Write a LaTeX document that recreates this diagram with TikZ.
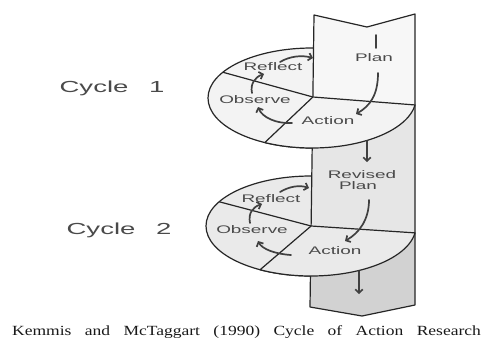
\documentclass[tikz,border=0pt]{standalone}
\usepackage{fontspec}
\usepackage{graphicx}
\setmainfont{Liberation Sans}
\newfontfamily\capfont{Liberation Serif}
\usetikzlibrary{arrows.meta}
\newcommand\widen[1]{\scalebox{1.72}[1]{#1}}
\definecolor{plantop}{HTML}{F7F7F7}
\definecolor{planmid}{HTML}{E6E6E6}
\definecolor{planbot}{HTML}{D2D2D2}
\definecolor{discA}{HTML}{F3F3F3}
\definecolor{discB}{HTML}{EAEAEA}
\definecolor{inkgrey}{HTML}{4A4A4A}
\begin{document}
\begin{tikzpicture}[x=1pt,y=-1pt,
  edge/.style={draw=black!85, line width=1.2pt, line join=round},
  flow/.style={draw=black!75, line width=1.7pt, line cap=round, -{Straight Barb[length=3.5pt,width=7.5pt]}},
  lbl/.style={text=inkgrey, font=\fontsize{11}{12}\selectfont, inner sep=0pt, anchor=base},
  cyc/.style={text=inkgrey, font=\fontsize{16}{18}\selectfont, inner sep=0pt, anchor=base},
]
\path[use as bounding box, fill=white] (0,0) rectangle (486,340);

% strip corners
\coordinate (T1) at (314,15);
\coordinate (N)  at (367,27);
\coordinate (T2) at (415,14);
\coordinate (B2) at (415,305);
\coordinate (P)  at (362,316);
\coordinate (B1) at (310,307);
\coordinate (J1) at (312.9,97);
\coordinate (R1) at (415,105);
\coordinate (J2) at (311.1,226);
\coordinate (R2) at (415,233);
\coordinate (U1) at ({312+104*cos(211)},{98+50*sin(211)});
\coordinate (U2) at ({311+105*cos(209)},{226+50*sin(209)});

% discs (back parts), clipped at the strip's right edge
\begin{scope}
\clip (0,0) rectangle (414.6,340);
\filldraw[edge, fill=discA] (312,98) ellipse [x radius=104, y radius=50];
\draw[edge] (J1) -- (U1);
\filldraw[edge, fill=discB] (311,226) ellipse [x radius=105, y radius=50];
\draw[edge] (J2) -- (U2);
\end{scope}

% strip
\fill[plantop] (T1) -- (N) -- (T2) -- (R1) -- (J1) -- cycle;
\fill[planmid] (J1) -- (R1) -- (R2) -- (J2) -- cycle;
\fill[planbot] (J2) -- (R2) -- (B2) -- (P) -- (B1) -- cycle;
\draw[edge] (T1) -- (N) -- (T2) -- (B2) -- (P) -- (B1) -- cycle;

% action sectors (front)
\filldraw[edge, fill=discA] (J1) -- plot[domain=117:8, samples=60] ({312+104*cos(\x)},{98+50*sin(\x)}) -- cycle;
\filldraw[edge, fill=discB] (J2) -- plot[domain=119:7.9, samples=60] ({311+105*cos(\x)},{226+50*sin(\x)}) -- cycle;

% labels
\node[cyc] (c1) at (112,92.5) {\widen{Cycle\hspace{0.75em}1}};
\node[cyc] (c2) at (119,234) {\widen{Cycle\hspace{0.75em}2}};
\node[lbl] (reflect1) at (273,70) {\widen{Reflect}};
\node[lbl] (observe1) at (255,103) {\widen{Observe}};
\node[lbl] (action1) at (328,124) {\widen{Action}};
\node[lbl] (plan1) at (374,61) {\widen{Plan}};
\node[lbl] (reflect2) at (271,202) {\widen{Reflect}};
\node[lbl] (observe2) at (252,233) {\widen{Observe}};
\node[lbl] (action2) at (335,254) {\widen{Action}};
\node[lbl] (revised) at (362,178) {\widen{Revised}};
\node[lbl] (plan2) at (358,189.5) {\widen{Plan}};

% arrow end points
\coordinate (a1s) at (376,35);  \coordinate (a1e) at (376,48);
\coordinate (a2s) at (378,73);  \coordinate (a2e) at (356,114);
\coordinate (a3s) at (292,123); \coordinate (a3e) at (258,107);
\coordinate (a4s) at (252,93);  \coordinate (a4e) at (264,74);
\coordinate (a5s) at (280,62);  \coordinate (a5e) at (313,58);
\coordinate (a6s) at (367,141); \coordinate (a6e) at (367,162);
\coordinate (b1s) at (369,200); \coordinate (b1e) at (345,241);
\coordinate (b2s) at (291,255); \coordinate (b2e) at (258,241);
\coordinate (b3s) at (250,223); \coordinate (b3e) at (262,204);
\coordinate (b4s) at (280,192); \coordinate (b4e) at (309,188);
\coordinate (b5s) at (359,271); \coordinate (b5e) at (359,294);

% cycle 1 arrows
\draw[draw=black!75, line width=1.7pt, line cap=round] (a1s) -- (a1e);
\draw[flow] (a2s) .. controls (378,95) and (370,106) .. (a2e);
\draw[flow] (a3s) .. controls (276,124) and (262,117) .. (a3e);
\draw[flow] (a4s) .. controls (250,84) and (255,77) .. (a4e);
\draw[flow] (a5s) .. controls (290,56) and (302,55) .. (a5e);
\draw[flow] (a6s) -- (a6e);
% cycle 2 arrows
\draw[flow] (b1s) .. controls (369,220) and (359,233) .. (b1e);
\draw[flow] (b2s) .. controls (275,254) and (262,249) .. (b2e);
\draw[flow] (b3s) .. controls (248,213) and (253,207) .. (b3e);
\draw[flow] (b4s) .. controls (290,186) and (300,185) .. (b4e);
\draw[flow] (b5s) -- (b5e);

% caption
\node[inner sep=0pt, anchor=base, text=black!90] (cap) at (246.5,335) {\scalebox{1.25}[1]{\capfont\fontsize{14}{16}\selectfont\makebox[375pt][s]{Kemmis and McTaggart (1990) Cycle of Action Research}}};
\end{tikzpicture}
\end{document}
